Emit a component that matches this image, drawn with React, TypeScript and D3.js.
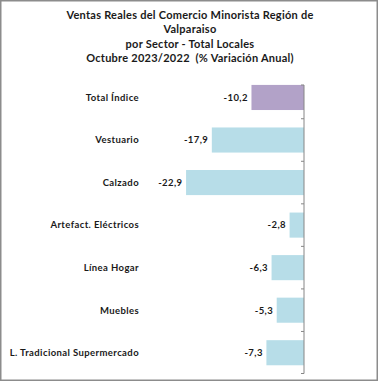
import React from "react";
import * as d3 from "d3";

const categories = [
  "Total Índice",
  "Vestuario",
  "Calzado",
  "Artefact. Eléctricos",
  "Línea Hogar",
  "Muebles",
  "L. Tradicional Supermercado",
];
const values = [-10.2, -17.9, -22.9, -2.8, -6.3, -5.3, -7.3];
const titleLines = [
  "Ventas Reales del Comercio Minorista Región de",
  "Valparaiso",
  "por Sector - Total Locales",
  "Octubre 2023/2022 \u00a0(% Variación Anual)",
];

const W = 379;
const H = 383;
const FONT = "Lato, 'Open Sans', sans-serif";

export default function App() {
  const x = d3.scaleLinear().domain([-25, 0]).range([175.25, 304]);
  const y = d3
    .scaleBand<string>()
    .domain(categories)
    .range([76.2, 374])
    .paddingInner(0.41)
    .paddingOuter(0.205);
  const step = y.step();
  const axisTop = 85;
  const bandEdges = categories.map((c, i) => (i === 0 ? axisTop : y(c)! - y.paddingInner() * step / 2));
  const bottomEdge = 374 - 0.5;
  const fmt = (v: number) => d3.format(".1f")(v).replace(".", ",").replace("−", "-");

  return (
    <svg
      width={W}
      height={H}
      style={{ position: "absolute", left: 0, top: 0, background: "#fff" }}
      fontFamily={FONT}
    >
      <rect x={0.75} y={0.75} width={376.5} height={379.5} fill="#fff" stroke="#8c8c8c" strokeWidth={1.5} />
      {titleLines.map((t, i) => (
        <text
          key={i}
          x={190}
          y={15 + i * 14.4}
          dy="0.35em"
          textAnchor="middle"
          fontSize={11}
          letterSpacing={0.25}
          fontWeight="bold"
          fill="#1a1a1a"
        >
          {t}
        </text>
      ))}
      {categories.map((c, i) => {
        const v = values[i];
        const by = y(c)!;
        const bh = y.bandwidth();
        const x0 = x(v);
        return (
          <g key={c}>
            <rect
              x={x0}
              y={by}
              width={x(0) - x0}
              height={bh}
              fill={i === 0 ? "#b2a2c8" : "#b7dde8"}
            />
            <text
              x={x0 - 3.6}
              y={by + bh / 2}
              dy="0.35em"
              textAnchor="end"
              fontSize={9.5}
              letterSpacing={0.4}
              fontWeight="bold"
              fill="#1a1a1a"
            >
              {fmt(v)}
            </text>
            <text
              x={139}
              y={by + bh / 2}
              dy="0.35em"
              textAnchor="end"
              fontSize={9.5}
              letterSpacing={0.4}
              fontWeight="bold"
              fill="#1a1a1a"
            >
              {c}
            </text>
          </g>
        );
      })}
      <line x1={304} x2={304} y1={axisTop} y2={bottomEdge} stroke="#868686" strokeWidth={1} />
      {[...bandEdges, bottomEdge].map((e, i) => (
        <line key={i} x1={301} x2={304} y1={e} y2={e} stroke="#868686" strokeWidth={1} />
      ))}
    </svg>
  );
}
